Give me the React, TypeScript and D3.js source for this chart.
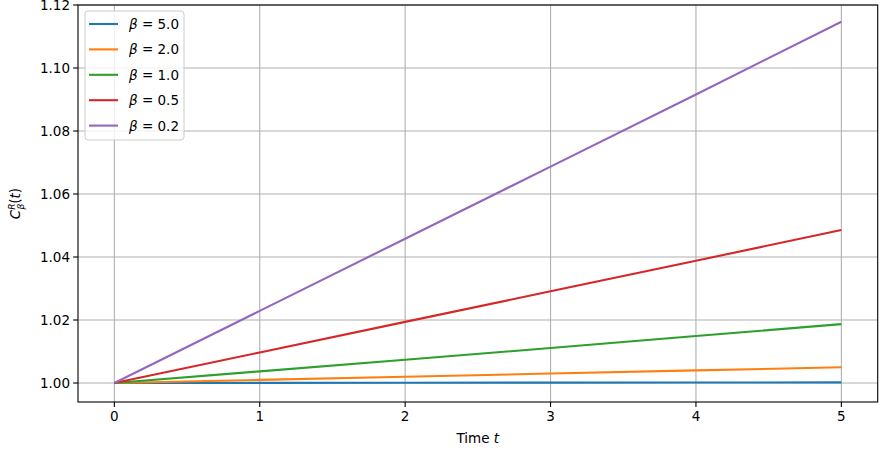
import React from "react";
import * as d3 from "d3";

const times = [0, 1, 2, 3, 4, 5];
const betas = ["5.0", "2.0", "1.0", "0.5", "0.2"];
const colors = ["#1f77b4", "#ff7f0e", "#2ca02c", "#d62728", "#9467bd"];
const beta50 = [1.0, 1.00004, 1.00008, 1.00012, 1.00016, 1.0002];
const beta20 = [1.0, 1.001, 1.002, 1.003, 1.004, 1.005];
const beta10 = [1.0, 1.0037, 1.0074, 1.0111, 1.0149, 1.0187];
const beta05 = [1.0, 1.0097, 1.0194, 1.0291, 1.0388, 1.0486];
const beta02 = [1.0, 1.0229, 1.0458, 1.0687, 1.0916, 1.1147];
const series = [beta50, beta20, beta10, beta05, beta02];
const xTicks = [0, 1, 2, 3, 4, 5];
const yTicks = [1.0, 1.02, 1.04, 1.06, 1.08, 1.1, 1.12];

const W = 883, H = 452;
const L = 78, R = 877.7, T = 5, B = 402;

export default function App() {
  const x = d3.scaleLinear().domain([-0.25, 5.25]).range([L, R]);
  const y = d3.scaleLinear().domain([0.99397, 1.12]).range([B, T]);
  const line = d3.line<number>().x((_, i) => x(times[i])).y((d) => y(d));
  const font = "DejaVu Sans, sans-serif";
  return (
    <svg width={W} height={H} style={{ position: "absolute", left: 0, top: 0 }} fontFamily={font}>
      <rect width={W} height={H} fill="#fff" />
      <defs>
        <clipPath id="pc"><rect x={L} y={T} width={R - L} height={B - T} /></clipPath>
      </defs>
      {xTicks.map((t) => (
        <line key={"gx" + t} x1={x(t)} x2={x(t)} y1={T} y2={B} stroke="#b0b0b0" strokeWidth={1.1} />
      ))}
      {yTicks.map((t) => (
        <line key={"gy" + t} x1={L} x2={R} y1={y(t)} y2={y(t)} stroke="#b0b0b0" strokeWidth={1.1} />
      ))}
      <g clipPath="url(#pc)">
        {series.map((s, i) => (
          <path key={i} d={line(s) || ""} fill="none" stroke={colors[i]} strokeWidth={2.1} />
        ))}
      </g>
      <rect x={L} y={T} width={R - L} height={B - T} fill="none" stroke="#000" strokeWidth={1.1} />
      {xTicks.map((t) => (
        <g key={"tx" + t}>
          <line x1={x(t)} x2={x(t)} y1={B} y2={B + 4.9} stroke="#000" strokeWidth={1.1} />
          <text x={x(t)} y={B + 19} textAnchor="middle" fontSize={13.5} fill="#000">{t}</text>
        </g>
      ))}
      {yTicks.map((t) => (
        <g key={"ty" + t}>
          <line x1={L - 4.9} x2={L} y1={y(t)} y2={y(t)} stroke="#000" strokeWidth={1.1} />
          <text x={L - 8} y={y(t) + 5} textAnchor="end" fontSize={13.5} fill="#000">{t.toFixed(2)}</text>
        </g>
      ))}
      <text x={(L + R) / 2} y={443} textAnchor="middle" fontSize={13.5} fill="#000">
        Time <tspan fontStyle="italic">t</tspan>
      </text>
      <text transform={`translate(20, ${(T + B) / 2}) rotate(-90)`} textAnchor="middle" fontSize={13.5} fill="#000">
        <tspan fontStyle="italic">C</tspan>
        <tspan fontSize={9} dy={-5} fontStyle="italic">R</tspan>
        <tspan fontSize={9} dy={9} dx={-6} fontStyle="italic">β</tspan>
        <tspan dy={-4}>(</tspan>
        <tspan fontStyle="italic">t</tspan>
        <tspan>)</tspan>
      </text>
      <g>
        <rect x={85} y={11} width={99} height={129} rx={3} fill="#fff" fillOpacity={0.8} stroke="#cccccc" strokeWidth={1} />
        {betas.map((b, i) => (
          <g key={"lg" + b}>
            <line x1={89} x2={118} y1={24 + i * 25.4} y2={24 + i * 25.4} stroke={colors[i]} strokeWidth={2.1} />
            <text x={129} y={24 + i * 25.4 + 5} fontSize={13.5} fill="#000">
              <tspan fontStyle="italic">β</tspan> = {b}
            </text>
          </g>
        ))}
      </g>
    </svg>
  );
}
